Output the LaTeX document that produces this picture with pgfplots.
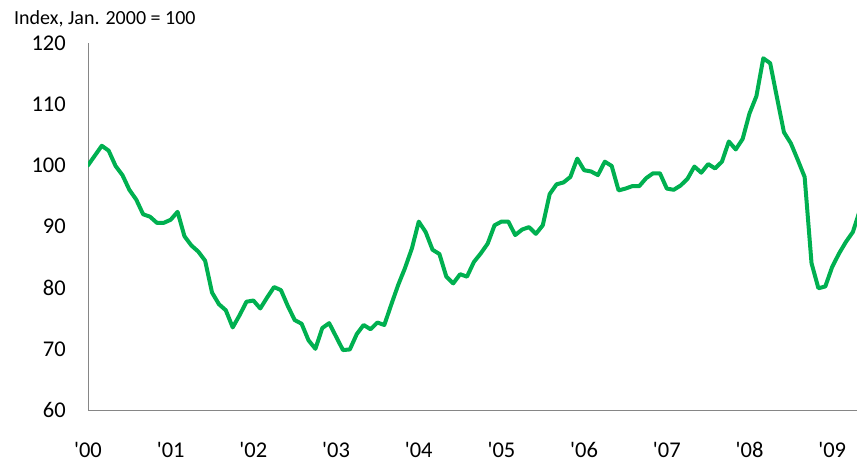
\documentclass[border=0pt]{standalone}
\usepackage{pgfplots}
\pgfplotsset{compat=1.18}
\usepackage{fontspec}
\setmainfont{Carlito}
\newfontfamily\plainfont{Carlito}
\definecolor{lgreen}{RGB}{0,176,80}
\definecolor{axgray}{RGB}{134,134,134}
\pgfplotstableread{
m v
0 100.0
1 101.6
2 103.2
3 102.4
4 99.9
5 98.4
6 96.0
7 94.4
8 92.0
9 91.6
10 90.6
11 90.6
12 91.1
13 92.4
14 88.4
15 86.9
16 85.9
17 84.4
18 79.2
19 77.3
20 76.3
21 73.5
22 75.5
23 77.7
24 77.9
25 76.6
26 78.4
27 80.1
28 79.6
29 77.0
30 74.7
31 74.1
32 71.4
33 70.0
34 73.4
35 74.2
36 72.0
37 69.8
38 69.9
39 72.4
40 73.9
41 73.2
42 74.3
43 73.9
44 77.2
45 80.4
46 83.2
47 86.4
48 90.8
49 89.1
50 86.2
51 85.5
52 81.8
53 80.7
54 82.2
55 81.8
56 84.2
57 85.6
58 87.2
59 90.2
60 90.8
61 90.8
62 88.6
63 89.5
64 89.9
65 88.8
66 90.2
67 95.3
68 96.9
69 97.2
70 98.1
71 101.1
72 99.2
73 99.0
74 98.4
75 100.6
76 99.9
77 95.9
78 96.2
79 96.6
80 96.6
81 97.9
82 98.7
83 98.7
84 96.2
85 96.0
86 96.7
87 97.8
88 99.8
89 98.8
90 100.2
91 99.5
92 100.6
93 103.9
94 102.6
95 104.3
96 108.5
97 111.3
98 117.5
99 116.7
100 111.0
101 105.4
102 103.6
103 100.9
104 98.1
105 84.0
106 79.9
107 80.2
108 83.4
109 85.6
110 87.5
111 89.1
112 92.6
}\datatable
\begin{document}
\begin{tikzpicture}
\useasboundingbox (0,0) rectangle (857pt,464pt);
\begin{axis}[
  at={(88pt,54pt)}, anchor=south west,
  scale only axis,
  width=769pt, height=367pt,
  xmin=0, xmax=111.6,
  ymin=60, ymax=120,
  axis x line=bottom, axis y line=left,
  axis line style={-, draw=axgray, line width=1pt},
  xtick={0,12,24,36,48,60,72,84,96,108},
  xticklabels={{'00},{'01},{'02},{'03},{'04},{'05},{'06},{'07},{'08},{'09}},
  ytick={60,70,...,120},
  major tick length=0pt,
  tick style={draw=none},
  /pgf/number format/assume math mode=true,
  yticklabel style={font=\fontsize{22.5}{27}\selectfont, anchor=east, inner sep=0pt, xshift=-22pt},
  xticklabel style={font=\plainfont\fontsize{22.5}{27}\selectfont, anchor=north, inner sep=0pt, yshift=-32pt},
  clip=true,
]
\addplot[lgreen, line width=4pt, line join=round, line cap=round] table[x=m, y=v] {\datatable};
\end{axis}
\node[anchor=base west, inner sep=0pt, font=\fontsize{20}{24}\selectfont] at (14pt,439pt) {Index, Jan. 2000 = 100};
\end{tikzpicture}
\end{document}
